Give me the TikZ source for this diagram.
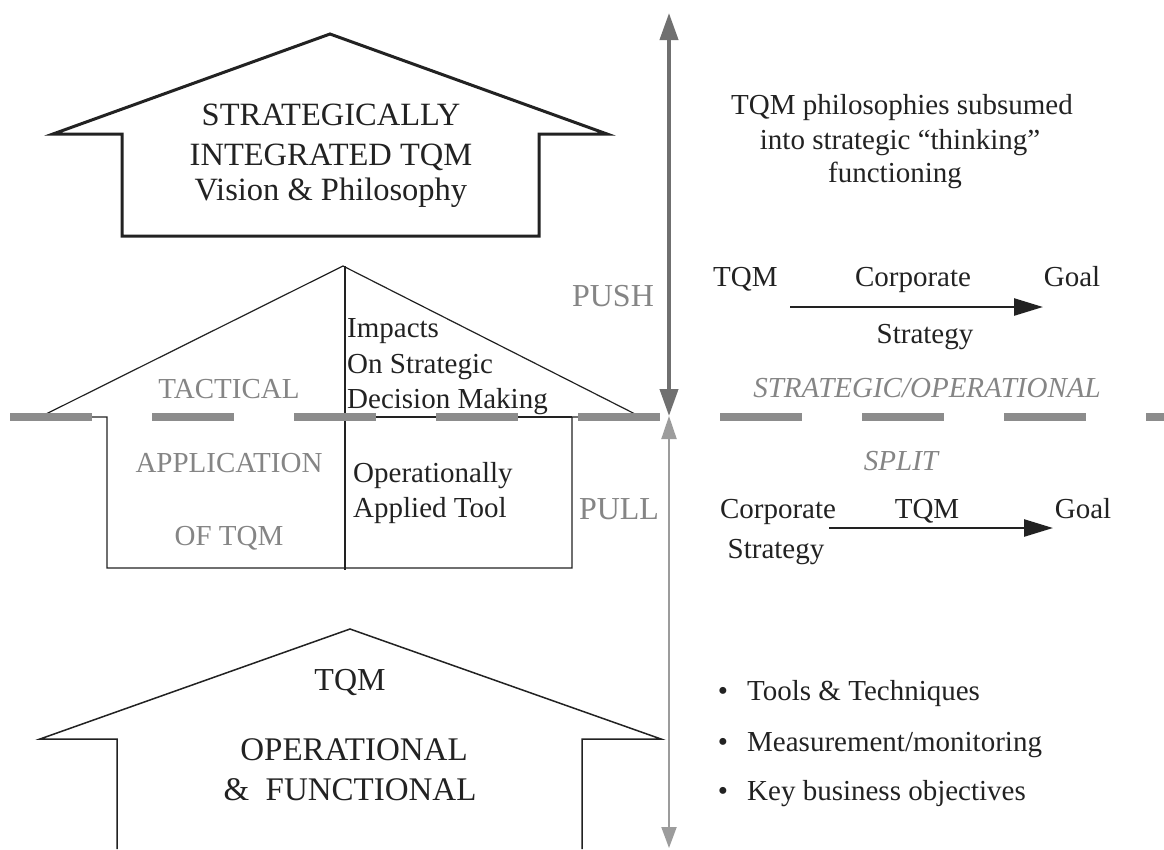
\documentclass[tikz,border=0pt]{standalone}
\usepackage{fontspec}
\setmainfont{Liberation Serif}
\usetikzlibrary{arrows.meta}

\definecolor{ink}{HTML}{222222}
\definecolor{greytext}{HTML}{858585}
\definecolor{pushgrey}{HTML}{707070}
\definecolor{pullgrey}{HTML}{9C9C9C}
\definecolor{splitgrey}{HTML}{8C8C8C}

\tikzset{
  txt/.style={font=\fontsize{29}{34}\selectfont, text=ink, inner sep=0pt, anchor=base},
  lefttxt/.style={txt, anchor=base west},
  bigtxt/.style={txt, font=\fontsize{32.5}{38}\selectfont},
  basetxt/.style={txt, font=\fontsize{33}{38}\selectfont},
  greylbl/.style={txt, text=greytext},
  biggrey/.style={greylbl, font=\fontsize{32}{38}\selectfont},
  italgrey/.style={greylbl, font=\fontsize{29}{34}\selectfont\itshape},
  thickhouse/.style={draw=ink, line width=3pt, line join=miter},
  thinhouse/.style={draw=ink, line width=1.2pt},
  basehouse/.style={draw=ink, line width=1.5pt},
  splitline/.style={draw=splitgrey, line width=8pt, dash pattern=on 82pt off 60pt},
  pusharrow/.style={draw=pushgrey, line width=4pt,
    {Triangle[length=27pt,width=18pt]}-{Triangle[length=27pt,width=18pt]}},
  pullarrow/.style={draw=pullgrey, line width=2pt,
    {Triangle[length=23pt,width=15pt]}-{Triangle[length=21pt,width=15pt]}},
  flowarrow/.style={draw=ink, line width=2.5pt, -{Triangle[length=29pt,width=17pt]}}
}

\begin{document}
\begin{tikzpicture}[x=1pt,y=-1pt]
\useasboundingbox (0,0) rectangle (1164,849);
\fill[white] (0,0) rectangle (1164,849);

% strategic house
\draw[thickhouse] (53,134) -- (330,34) -- (607,134) -- (539,134) -- (539,236)
  -- (122,236) -- (122,134) -- cycle;
\node[bigtxt] (strat) at (331,125) {STRATEGICALLY};
\node[bigtxt] (integ) at (331,165) {INTEGRATED TQM};
\node[bigtxt] (vision) at (331,200) {Vision \& Philosophy};

% tactical house, split in two halves
\draw[thinhouse] (40,417) -- (343,266) -- (641,417) -- (572,417) -- (572,568)
  -- (107,568) -- (107,417) -- cycle;
\draw[thinhouse] (345,266) -- (345,570);
\draw[thinhouse] (345,417) -- (572,417);
\node[greylbl] (tact) at (229,398) {TACTICAL};
\node[greylbl] (appl) at (229,472) {APPLICATION};
\node[greylbl] (oftqm) at (229,545) {OF TQM};
\node[lefttxt] (imp1) at (347,337) {Impacts};
\node[lefttxt] (imp2) at (347,373) {On Strategic};
\node[lefttxt] (imp3) at (347,408) {Decision Making};
\node[lefttxt] (op1) at (353,482) {Operationally};
\node[lefttxt] (op2) at (353,517) {Applied Tool};

% operational house
\draw[basehouse] (117,849) -- (117,739) -- (40,739) -- (350,629) -- (661,739)
  -- (582,739) -- (582,849);
\node[basetxt, font=\fontsize{32}{38}\selectfont] (btqm) at (350,690) {TQM};
\node[basetxt] (bop) at (354,760) {OPERATIONAL};
\node[basetxt] (bfun) at (350,800) {\&\ \ FUNCTIONAL};

% strategic / operational split
\draw[splitline] (10,417) -- (1164,417);

% push and pull arrows
\coordinate (pushtop) at (669,13);
\coordinate (split) at (669,416);
\coordinate (pullend) at (669,848);
\draw[pusharrow] (pushtop) -- (split);
\draw[pullarrow] (split) -- (pullend);
\node[biggrey] (push) at (613,306) {PUSH};
\node[biggrey] (pull) at (619,519) {PULL};

% right-hand notes
\node[txt] (phil1) at (902,114) {TQM philosophies subsumed};
\node[txt] (phil2) at (900,149) {into strategic “thinking”};
\node[txt] (phil3) at (895,182) {functioning};

\node[lefttxt] (ptqm) at (713,286) {TQM};
\node[txt] (pcorp) at (913,286) {Corporate};
\node[txt] (pgoal) at (1072,286) {Goal};
\node[txt] (pstrat) at (925,343) {Strategy};
\coordinate (pa) at (790,307);
\coordinate (pb) at (1043,307);
\draw[flowarrow] (pa) -- (pb);

\node[italgrey] (sopl) at (927,397) {STRATEGIC/OPERATIONAL};
\node[italgrey] (spl) at (901,470) {SPLIT};

\node[txt] (qcorp) at (778,518) {Corporate};
\node[txt] (qtqm) at (927,518) {TQM};
\node[txt] (qgoal) at (1083,518) {Goal};
\node[txt] (qstrat) at (776,558) {Strategy};
\coordinate (qa) at (829,528);
\coordinate (qb) at (1053,528);
\draw[flowarrow] (qa) -- (qb);

\node[txt] (b1) at (723,700) {\textbullet};
\node[txt] (b2) at (723,751) {\textbullet};
\node[txt] (b3) at (723,800) {\textbullet};
\node[lefttxt] (l1) at (747,700) {Tools \& Techniques};
\node[lefttxt] (l2) at (747,751) {Measurement/monitoring};
\node[lefttxt] (l3) at (747,800) {Key business objectives};
\end{tikzpicture}
\end{document}
